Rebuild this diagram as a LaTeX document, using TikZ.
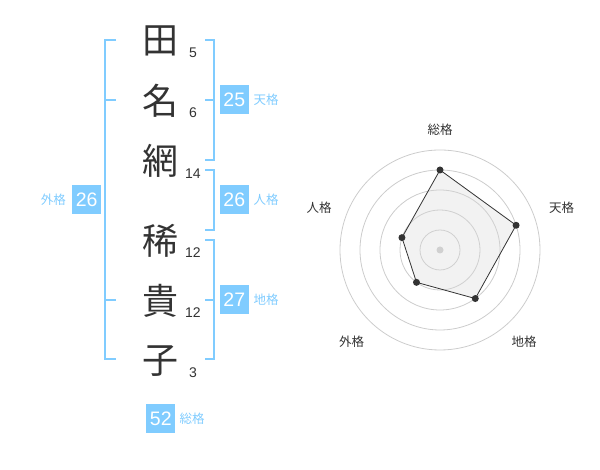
\documentclass[tikz,border=0pt]{standalone}
\usepackage{fontspec}
\setmainfont{Liberation Sans}
\newfontfamily\jp{Noto Sans CJK JP}
\usepackage{tikz}
\definecolor{kaku}{RGB}{128,204,255}
\definecolor{ink}{RGB}{51,51,51}
\definecolor{ring}{RGB}{204,204,204}

\begin{document}
\begin{tikzpicture}[x=1pt,y=1pt]
        \tikzstyle{every node}+=[inner sep=0pt]
        \tikzstyle{kanji}=[text=ink,font=\jp\fontsize{36}{36}\selectfont]
        \tikzstyle{strokes}=[text=ink,font=\fontsize{14}{14}\selectfont]
        \tikzstyle{numbox}=[fill=kaku,text=white,minimum size=29,font=\fontsize{19.5}{19.5}\selectfont]
        \tikzstyle{kakuname}=[text=kaku,font=\jp\fontsize{12.5}{12.5}\selectfont]
        \tikzstyle{bracket}=[draw=kaku,line width=2]
        \tikzstyle{axisname}=[text=ink,font=\jp\fontsize{12.5}{12.5}\selectfont]
        \useasboundingbox (0,0) rectangle (600,470);
        % name
        \node [kanji] (k1) at (160,429) {田};
        \node [kanji] (k2) at (160,369) {名};
        \node [kanji] (k3) at (160,309) {網};
        \node [kanji] (k4) at (160,229) {稀};
        \node [kanji] (k5) at (160,169) {貴};
        \node [kanji] (k6) at (160,109) {子};
        \node [strokes] (s1) at (193,417.3) {5};
        \node [strokes] (s2) at (193,357.3) {6};
        \node [strokes] (s3) at (193,296.7) {14};
        \node [strokes] (s4) at (193,217.7) {12};
        \node [strokes] (s5) at (193,157.7) {12};
        \node [strokes] (s6) at (193,97.3) {3};
        % brackets
        \draw [bracket] (116,430) -- (105,430) -- (105,111) -- (116,111);
        \draw [bracket] (105,370) -- (116,370);
        \draw [bracket] (105,170) -- (116,170);
        \draw [bracket] (205.3,430) -- (214.3,430) -- (214.3,310) -- (205.3,310);
        \draw [bracket] (205.3,370) -- (214.3,370);
        \draw [bracket] (205.3,300) -- (214.3,300) -- (214.3,240) -- (205.3,240);
        \draw [bracket] (205.3,230) -- (214.3,230) -- (214.3,110.7) -- (205.3,110.7);
        \draw [bracket] (205.3,170) -- (214.3,170);
        % totals
        \node [numbox] (gai) at (86.7,270) {26};
        \node [kakuname] (gainame) at (53.3,270) {外格};
        \node [numbox] (ten) at (234.3,370) {25};
        \node [kakuname] (tenname) at (266,370) {天格};
        \node [numbox] (jin) at (234.3,270) {26};
        \node [kakuname] (jinname) at (266,270) {人格};
        \node [numbox] (chi) at (234.3,170) {27};
        \node [kakuname] (chiname) at (266,170) {地格};
        \node [numbox] (so) at (160.8,51) {52};
        \node [kakuname] (soname) at (192,51) {総格};
        % chart
        \begin{scope}[shift={(440,220)}]
        \draw [ring,line width=0.8] (0,0) circle (20);
        \draw [ring,line width=0.8] (0,0) circle (40);
        \draw [ring,line width=0.8] (0,0) circle (60);
        \draw [ring,line width=0.8] (0,0) circle (80);
        \draw [ring,line width=0.8] (0,0) circle (100);
        \fill [ring] (0,0) circle (3.5);
        \coordinate (p1) at (90:80);
        \coordinate (p2) at (18:80);
        \coordinate (p3) at (-54:60);
        \coordinate (p4) at (-126:40);
        \coordinate (p5) at (162:40);
        \draw [fill=gray!30,fill opacity=0.35,draw=ink,line width=0.8] (p1) -- (p2) -- (p3) -- (p4) -- (p5) -- cycle;
        \fill [ink] (p1) circle (3.5);
        \fill [ink] (p2) circle (3.5);
        \fill [ink] (p3) circle (3.5);
        \fill [ink] (p4) circle (3.5);
        \fill [ink] (p5) circle (3.5);
        \node [axisname] (a1) at (0,120) {総格};
        \node [axisname] (a2) at (121.7,42) {天格};
        \node [axisname] (a3) at (84,-92) {地格};
        \node [axisname] (a4) at (-88.3,-92) {外格};
        \node [axisname] (a5) at (-121,42) {人格};
        \end{scope}
\end{tikzpicture}
\end{document}
